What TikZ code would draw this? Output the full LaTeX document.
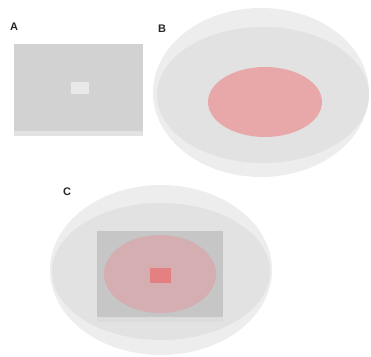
\documentclass[tikz,border=0pt]{standalone}
\usepackage{fontspec}
\setsansfont{Liberation Sans}
\usepackage{tikz}
\definecolor{dishout}{HTML}{EDEDED}
\definecolor{dishin}{HTML}{E2E2E2}
\definecolor{slide}{HTML}{D2D2D2}
\definecolor{slidebot}{HTML}{E2E2E2}
\definecolor{spot}{HTML}{E9E9E9}
\definecolor{zone}{HTML}{E8A7A9}
\definecolor{slidec}{HTML}{C6C6C6}
\definecolor{zonec}{HTML}{D4AEB0}
\definecolor{spotc}{HTML}{E58082}
\tikzset{lbl/.style={font=\sffamily\bfseries\fontsize{11}{13}\selectfont, text=black!85, inner sep=0pt}}

\begin{document}
\begin{tikzpicture}[x=1pt,y=-1pt]
		\useasboundingbox (0,0) rectangle (371,356);
		%A
		\node [lbl] (labA) at (14,26.5) {A};
		\fill [slidebot] (14,44) rectangle (143,136);
		\fill [slide] (14,44) rectangle (143,131);
		\fill [spot] (71,82) rectangle (89,94);
		%B
		\node [lbl] (labB) at (162,29) {B};
		\fill [dishout] (261,92.5) ellipse [x radius=108, y radius=84.5];
		\fill [dishin] (263,95) ellipse [x radius=106, y radius=68];
		\fill [zone] (265,102) ellipse [x radius=57, y radius=35];
		%C
		\node [lbl] (labC) at (67,192) {C};
		\fill [dishout] (161,270) ellipse [x radius=111, y radius=85];
		\fill [dishin] (161,271.5) ellipse [x radius=109, y radius=68.5];
		\fill [dishin!80!slidec] (97,231) rectangle (223,322);
		\fill [slidec] (97,231) rectangle (223,317);
		\fill [zonec] (160,274) ellipse [x radius=56, y radius=39];
		\fill [spotc] (150,268) rectangle (171,283);
	\end{tikzpicture}
\end{document}
